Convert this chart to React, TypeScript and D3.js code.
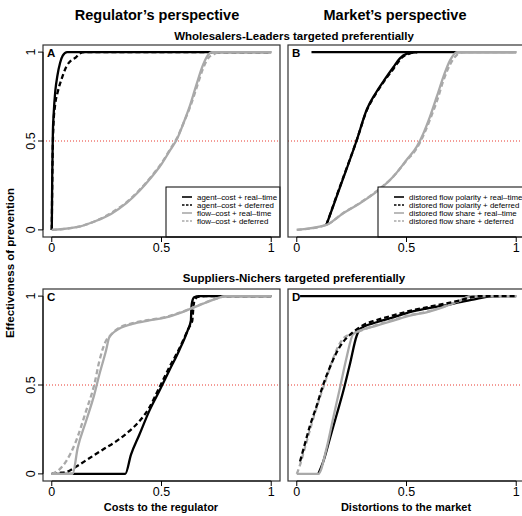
import React from "react";
import * as d3 from "d3";

type Pt = [number, number];

// ---------- Data ----------
// Panel A: Wholesalers-Leaders, regulator's perspective
const aAgentReal: Pt[] = [[0,0],[0.002,0.3],[0.005,0.55],[0.009,0.66],[0.016,0.78],[0.026,0.87],[0.038,0.94],[0.05,0.98],[0.07,1],[1,1]];
const aAgentDef: Pt[] = [[0,0],[0.003,0.35],[0.008,0.6],[0.015,0.7],[0.028,0.78],[0.045,0.85],[0.067,0.92],[0.09,0.955],[0.11,0.97],[0.125,0.99],[0.15,1],[1,1]];
const aFlowReal: Pt[] = [[0,0],[0.13,0.02],[0.2,0.05],[0.27,0.09],[0.34,0.15],[0.4,0.22],[0.45,0.29],[0.5,0.37],[0.54,0.45],[0.57,0.51],[0.6,0.6],[0.63,0.7],[0.66,0.82],[0.69,0.93],[0.71,0.98],[0.73,1],[1,1]];
const aFlowDef: Pt[] = [[0,0],[0.13,0.02],[0.2,0.05],[0.27,0.095],[0.34,0.155],[0.4,0.225],[0.45,0.295],[0.5,0.375],[0.54,0.455],[0.57,0.515],[0.6,0.6],[0.63,0.69],[0.66,0.8],[0.69,0.91],[0.715,0.97],[0.735,0.985],[0.76,1],[1,1]];

// Panel B: Wholesalers-Leaders, market's perspective
const bPolarityTop: Pt[] = [[0.067,1],[1,1]];
const bPolarityReal: Pt[] = [[0.135,0.028],[0.2,0.25],[0.272,0.5],[0.32,0.68],[0.36,0.77],[0.4,0.845],[0.44,0.915],[0.47,0.965],[0.5,0.99],[0.547,1]];
const bPolarityDef: Pt[] = [[0.135,0.028],[0.2,0.255],[0.272,0.5],[0.32,0.675],[0.36,0.765],[0.4,0.84],[0.44,0.905],[0.46,0.94],[0.48,0.97],[0.51,0.99],[0.55,1]];
const bShareReal: Pt[] = [[0,0],[0.135,0.028],[0.212,0.094],[0.288,0.15],[0.364,0.215],[0.44,0.3],[0.5,0.393],[0.547,0.468],[0.577,0.543],[0.607,0.637],[0.638,0.749],[0.668,0.861],[0.699,0.955],[0.73,1],[1,1]];
const bShareDef: Pt[] = [[0,0],[0.135,0.028],[0.212,0.095],[0.288,0.152],[0.364,0.218],[0.44,0.3],[0.5,0.39],[0.547,0.46],[0.58,0.54],[0.61,0.63],[0.64,0.73],[0.668,0.84],[0.71,0.955],[0.73,0.985],[0.76,1],[1,1]];

// Panel C: Suppliers-Nichers, regulator's perspective
const cAgentReal: Pt[] = [[0,0],[0.335,0],[0.361,0.108],[0.399,0.22],[0.444,0.353],[0.49,0.466],[0.535,0.58],[0.58,0.693],[0.619,0.806],[0.634,0.863],[0.636,0.93],[0.64,0.97],[0.649,0.994],[0.67,1],[1,1]];
const cAgentDef: Pt[] = [[0,0],[0.03,0.005],[0.065,0.01],[0.11,0.04],[0.171,0.088],[0.232,0.136],[0.293,0.183],[0.353,0.24],[0.399,0.296],[0.444,0.372],[0.49,0.485],[0.535,0.598],[0.58,0.702],[0.626,0.825],[0.64,0.86],[0.645,0.93],[0.65,0.975],[0.665,0.995],[0.7,1],[1,1]];
const cFlowReal: Pt[] = [[0,0],[0.095,0],[0.118,0.145],[0.156,0.296],[0.194,0.447],[0.217,0.56],[0.247,0.693],[0.262,0.768],[0.293,0.806],[0.368,0.844],[0.444,0.863],[0.52,0.88],[0.595,0.91],[0.671,0.948],[0.747,0.985],[0.793,1],[1,1]];
const cFlowDef: Pt[] = [[0,0],[0.03,0.02],[0.065,0.07],[0.11,0.183],[0.156,0.353],[0.194,0.504],[0.217,0.636],[0.247,0.749],[0.265,0.775],[0.293,0.81],[0.368,0.848],[0.444,0.866],[0.52,0.883],[0.595,0.912],[0.671,0.95],[0.747,0.985],[0.8,1],[1,1]];

// Panel D: Suppliers-Nichers, market's perspective
const dPolarityTop: Pt[] = [[0.015,1],[0.925,1]];
const dPolarityReal: Pt[] = [[0.098,0],[0.121,0.07],[0.151,0.2],[0.182,0.334],[0.212,0.466],[0.242,0.617],[0.273,0.777],[0.288,0.815],[0.364,0.853],[0.44,0.88],[0.515,0.91],[0.591,0.93],[0.668,0.946],[0.744,0.966],[0.82,0.985],[0.896,1],[1,1]];
const dPolarityDef: Pt[] = [[0.015,0.07],[0.035,0.16],[0.06,0.27],[0.09,0.38],[0.12,0.5],[0.151,0.6],[0.18,0.68],[0.21,0.74],[0.24,0.78],[0.27,0.81],[0.3,0.835],[0.364,0.865],[0.44,0.892],[0.515,0.917],[0.591,0.937],[0.668,0.956],[0.744,0.976],[0.8,0.995],[0.83,1],[1,1]];
const dShareReal: Pt[] = [[0,0],[0.098,0],[0.136,0.145],[0.166,0.315],[0.197,0.485],[0.227,0.655],[0.257,0.787],[0.288,0.806],[0.364,0.834],[0.44,0.862],[0.515,0.89],[0.591,0.909],[0.668,0.938],[0.744,0.975],[0.79,1],[1,1]];
const dShareDef: Pt[] = [[0,0],[0.012,0.04],[0.04,0.16],[0.07,0.29],[0.1,0.41],[0.13,0.52],[0.16,0.63],[0.19,0.72],[0.22,0.77],[0.26,0.79],[0.3,0.81],[0.364,0.838],[0.44,0.866],[0.515,0.893],[0.591,0.912],[0.668,0.94],[0.744,0.975],[0.8,1],[1,1]];

const xTicks = [0, 0.5, 1];
const yTicks = [0, 0.5, 1];
const tickLabels = ["0", "0.5", "1"];
const legendA = ["agent\u2013cost + real\u2013time", "agent\u2013cost + deferred", "flow\u2013cost + real\u2013time", "flow\u2013cost + deferred"];
const legendB = ["distored flow polarity + real\u2013time", "distored flow polarity + deferred", "distored flow share + real\u2013time", "distored flow share + deferred"];

// ---------- Styling ----------
const W = 522, H = 516;
const FONT = "'Liberation Sans', Arial, Helvetica, sans-serif";
const GREY = "#a9a9a9";
const styles = [
  { color: "#000", dash: "" },
  { color: "#000", dash: "5,3" },
  { color: GREY, dash: "" },
  { color: GREY, dash: "5,3" },
];

type Series = { pts: Pt[]; s: number };
type PanelDef = {
  id: string; x0: number; y0: number;
  series: Series[];
  yAxis: boolean; legend?: string[]; legendX?: number;
};

const BOX_W = 237, BOX_H = 192;
const panels: PanelDef[] = [
  { id: "A", x0: 43, y0: 45, yAxis: true, legend: legendA, legendX: 166,
    series: [{ pts: aAgentDef, s: 1 }, { pts: aAgentReal, s: 0 }, { pts: aFlowDef, s: 3 }, { pts: aFlowReal, s: 2 }] },
  { id: "B", x0: 288, y0: 45, yAxis: false, legend: legendB, legendX: 378,
    series: [{ pts: bPolarityTop, s: 0 }, { pts: bPolarityDef, s: 1 }, { pts: bPolarityReal, s: 0 }, { pts: bShareDef, s: 3 }, { pts: bShareReal, s: 2 }] },
  { id: "C", x0: 43, y0: 289, yAxis: true,
    series: [{ pts: cAgentDef, s: 1 }, { pts: cAgentReal, s: 0 }, { pts: cFlowReal, s: 2 }, { pts: cFlowDef, s: 3 }] },
  { id: "D", x0: 288, y0: 289, yAxis: false,
    series: [{ pts: dPolarityTop, s: 0 }, { pts: dPolarityReal, s: 0 }, { pts: dShareReal, s: 2 }, { pts: dShareDef, s: 3 }, { pts: dPolarityDef, s: 1 }] },
];

function Panel({ p }: { p: PanelDef }) {
  const x = d3.scaleLinear().domain([-0.04, 1.04]).range([p.x0, p.x0 + BOX_W]);
  const y = d3.scaleLinear().domain([-0.04, 1.04]).range([p.y0 + BOX_H, p.y0]);
  const line = d3.line<Pt>().x(d => x(d[0])).y(d => y(d[1])).curve(d3.curveMonotoneX);
  const bottom = p.y0 + BOX_H;
  const lg = p.legend;
  const lx = p.legendX ?? 0;
  const ly = bottom - 50;
  return (
    <g>
      <line x1={p.x0} x2={p.x0 + BOX_W} y1={y(0.5)} y2={y(0.5)} stroke="#e8392e" strokeWidth={1} strokeDasharray="1,2" />
      {p.series.map((s, i) => (
        <path key={i} d={line(s.pts) || ""} fill="none" stroke={styles[s.s].color} strokeWidth={2.3}
          strokeDasharray={styles[s.s].dash} strokeLinejoin="round" />
      ))}
      {lg && (
        <g>
          <rect x={lx} y={ly} width={p.x0 + BOX_W - lx} height={50} fill="#fff" stroke="#000" strokeWidth={1} />
          {lg.map((t, i) => {
            const yy = ly + 10 + i * 8;
            return (
              <g key={i}>
                <line x1={lx + 16} x2={lx + 26} y1={yy} y2={yy} stroke={styles[i].color} strokeWidth={1.6}
                  strokeDasharray={styles[i].dash ? "2.5,1.5" : ""} />
                <text x={lx + 31} y={yy + 2.7} fontSize={7.9} fontFamily={FONT} fill="#000">{t}</text>
              </g>
            );
          })}
        </g>
      )}
      <rect x={p.x0} y={p.y0} width={BOX_W} height={BOX_H} fill="none" stroke="#333" strokeWidth={1.2} />
      <text x={p.x0 + 4} y={p.y0 + 12} fontSize={11.5} fontWeight="bold" fontFamily={FONT}>{p.id}</text>
      {/* x axis */}
      <line x1={x(0)} x2={x(1)} y1={bottom} y2={bottom} stroke="#000" strokeWidth={1} />
      {xTicks.map((t, i) => (
        <g key={i}>
          <line x1={x(t)} x2={x(t)} y1={bottom} y2={bottom + 5} stroke="#000" strokeWidth={1} />
          <text x={x(t)} y={bottom + 15} fontSize={12.5} textAnchor="middle" fontFamily={FONT}>{tickLabels[i]}</text>
        </g>
      ))}
      {p.yAxis && (
        <g>
          <line x1={p.x0} x2={p.x0} y1={y(0)} y2={y(1)} stroke="#000" strokeWidth={1} />
          {yTicks.map((t, i) => (
            <g key={i}>
              <line x1={p.x0 - 5} x2={p.x0} y1={y(t)} y2={y(t)} stroke="#000" strokeWidth={1} />
              <text transform={`translate(${p.x0 - 8},${y(t)}) rotate(-90)`} fontSize={12.5} textAnchor="middle" fontFamily={FONT}>{tickLabels[i]}</text>
            </g>
          ))}
        </g>
      )}
    </g>
  );
}

export default function App() {
  return (
    <div style={{ position: "fixed", left: 0, top: 0, width: W, height: H, background: "#fff" }}>
      <svg width={W} height={H} style={{ display: "block" }}>
        <rect width={W} height={H} fill="#fff" />
        <text x={157} y={20} fontSize={14.5} fontWeight="bold" textAnchor="middle" fontFamily={FONT}>Regulator’s perspective</text>
        <text x={395} y={20} fontSize={14.5} fontWeight="bold" textAnchor="middle" fontFamily={FONT}>Market’s perspective</text>
        <text x={294} y={40} fontSize={11.5} fontWeight="bold" textAnchor="middle" fontFamily={FONT}>Wholesalers-Leaders targeted preferentially</text>
        <text x={294} y={282} fontSize={11.5} fontWeight="bold" textAnchor="middle" fontFamily={FONT}>Suppliers-Nichers targeted preferentially</text>
        <text transform="translate(14,263) rotate(-90)" fontSize={11.5} fontWeight="bold" textAnchor="middle" fontFamily={FONT}>Effectiveness of prevention</text>
        <text x={161} y={511} fontSize={11} fontWeight="bold" textAnchor="middle" fontFamily={FONT}>Costs to the regulator</text>
        <text x={406} y={511} fontSize={11} fontWeight="bold" textAnchor="middle" fontFamily={FONT}>Distortions to the market</text>
        {panels.map(p => <Panel key={p.id} p={p} />)}
      </svg>
    </div>
  );
}
